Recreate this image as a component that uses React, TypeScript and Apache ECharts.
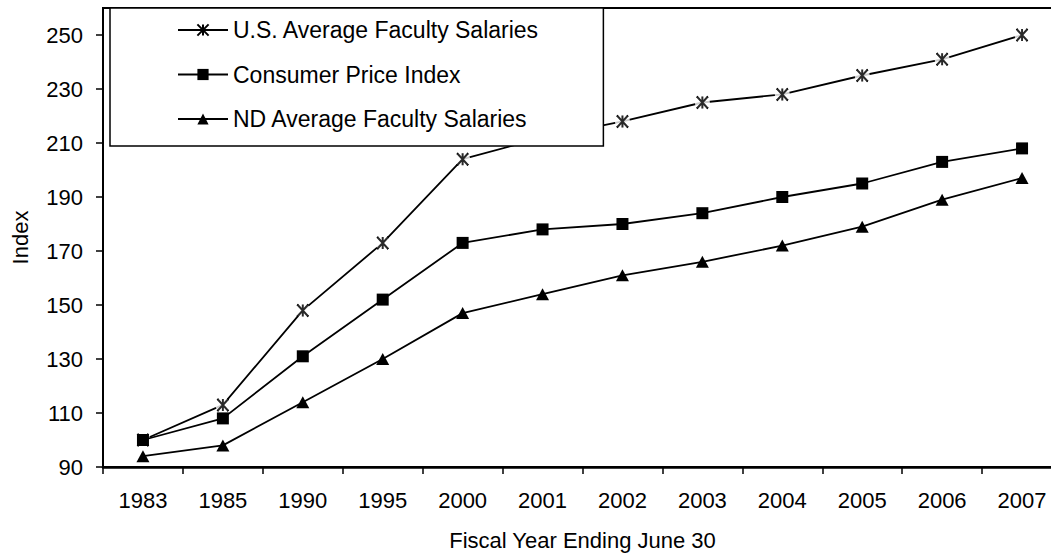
import React, { useEffect, useRef } from "react";
import * as echarts from "echarts";

const categories = ["1983", "1985", "1990", "1995", "2000", "2001", "2002", "2003", "2004", "2005", "2006", "2007"];
const usSalaries = [100, 113, 148, 173, 204, 212, 218, 225, 228, 235, 241, 250];
const cpiValues = [100, 108, 131, 152, 173, 178, 180, 184, 190, 195, 203, 208];
const ndSalaries = [94, 98, 114, 130, 147, 154, 161, 166, 172, 179, 189, 197];
const yTickValues = [90, 110, 130, 150, 170, 190, 210, 230, 250];
const seriesNames = ["U.S. Average Faculty Salaries", "Consumer Price Index", "ND Average Faculty Salaries"];
const xTitle = "Fiscal Year Ending June 30";
const yTitle = "Index";

const FONT = "'Liberation Sans', Arial, sans-serif";
const ASTERISK = "path://M0,0L10,12M10,0L0,12M5,0L5,12";

export default function App() {
  const ref = useRef<HTMLDivElement>(null);

  useEffect(() => {
    if (!ref.current) return;
    const chart = echarts.init(ref.current, undefined, { renderer: "svg" });
    const lineStyle = { color: "#000", width: 1.8 };
    chart.setOption({
      animation: false,
      backgroundColor: "#fff",
      textStyle: { fontFamily: FONT, color: "#000" },
      grid: {
        left: 103,
        top: 8,
        right: 0,
        bottom: 87,
        show: true,
        borderColor: "#000",
        borderWidth: 2,
        backgroundColor: "transparent",
      },
      legend: {
        orient: "vertical",
        left: 110,
        top: 8,
        z: 10,
        padding: [10, 64, 15, 67],
        itemWidth: 50,
        itemHeight: 14,
        itemGap: 20.5,
        backgroundColor: "#fff",
        borderColor: "#000",
        borderWidth: 1.5,
        borderRadius: 0,
        selectedMode: false,
        data: seriesNames,
        textStyle: { fontFamily: FONT, fontSize: 23, color: "#000", lineHeight: 24 },
      },
      xAxis: {
        type: "category",
        data: categories,
        boundaryGap: true,
        name: xTitle,
        nameLocation: "middle",
        nameGap: 62,
        nameTextStyle: { fontFamily: FONT, fontSize: 22, color: "#000" },
        axisLine: { lineStyle: { color: "#000", width: 2.5 } },
        axisTick: { show: true, length: 7, lineStyle: { color: "#000", width: 1.5 } },
        axisLabel: { fontFamily: FONT, fontSize: 22, color: "#000", margin: 22, interval: 0 },
        splitLine: { show: false },
      },
      yAxis: {
        type: "value",
        min: 90,
        max: 260,
        name: yTitle,
        nameLocation: "middle",
        nameGap: 72,
        nameTextStyle: { fontFamily: FONT, fontSize: 22, color: "#000" },
        axisLine: { show: true, lineStyle: { color: "#000", width: 2 } },
        axisTick: { show: true, length: 7, customValues: yTickValues, lineStyle: { color: "#000", width: 1.5 } },
        axisLabel: { fontFamily: FONT, fontSize: 22, color: "#000", margin: 20, customValues: yTickValues },
        splitLine: { show: false },
      },
      series: [
        {
          name: seriesNames[0],
          type: "line",
          data: usSalaries,
          z: 2,
          symbol: ASTERISK,
          symbolSize: [11, 12],
          lineStyle,
          itemStyle: { color: "#000", borderColor: "#000", borderWidth: 2 },
        },
        {
          name: "us-gap",
          type: "scatter",
          data: usSalaries,
          z: 3,
          silent: true,
          symbol: "circle",
          symbolSize: 15,
          itemStyle: { color: "#fff" },
        },
        {
          name: "us-marker",
          type: "scatter",
          data: usSalaries,
          z: 4,
          silent: true,
          symbol: ASTERISK,
          symbolSize: [11, 12],
          itemStyle: { color: "#000", borderColor: "#000", borderWidth: 2 },
        },
        {
          name: seriesNames[1],
          type: "line",
          data: cpiValues,
          z: 5,
          symbol: "rect",
          symbolSize: 12,
          lineStyle,
          itemStyle: { color: "#000" },
        },
        {
          name: seriesNames[2],
          type: "line",
          data: ndSalaries,
          z: 5,
          symbol: "triangle",
          symbolSize: [13, 12],
          lineStyle,
          itemStyle: { color: "#000" },
        },
      ],
    });
    return () => chart.dispose();
  }, []);

  return (
    <div style={{ position: "fixed", left: 0, top: 0, width: 1051, height: 556, overflow: "hidden", background: "#fff" }}>
      <div ref={ref} style={{ width: 1062, height: 556 }} />
    </div>
  );
}
